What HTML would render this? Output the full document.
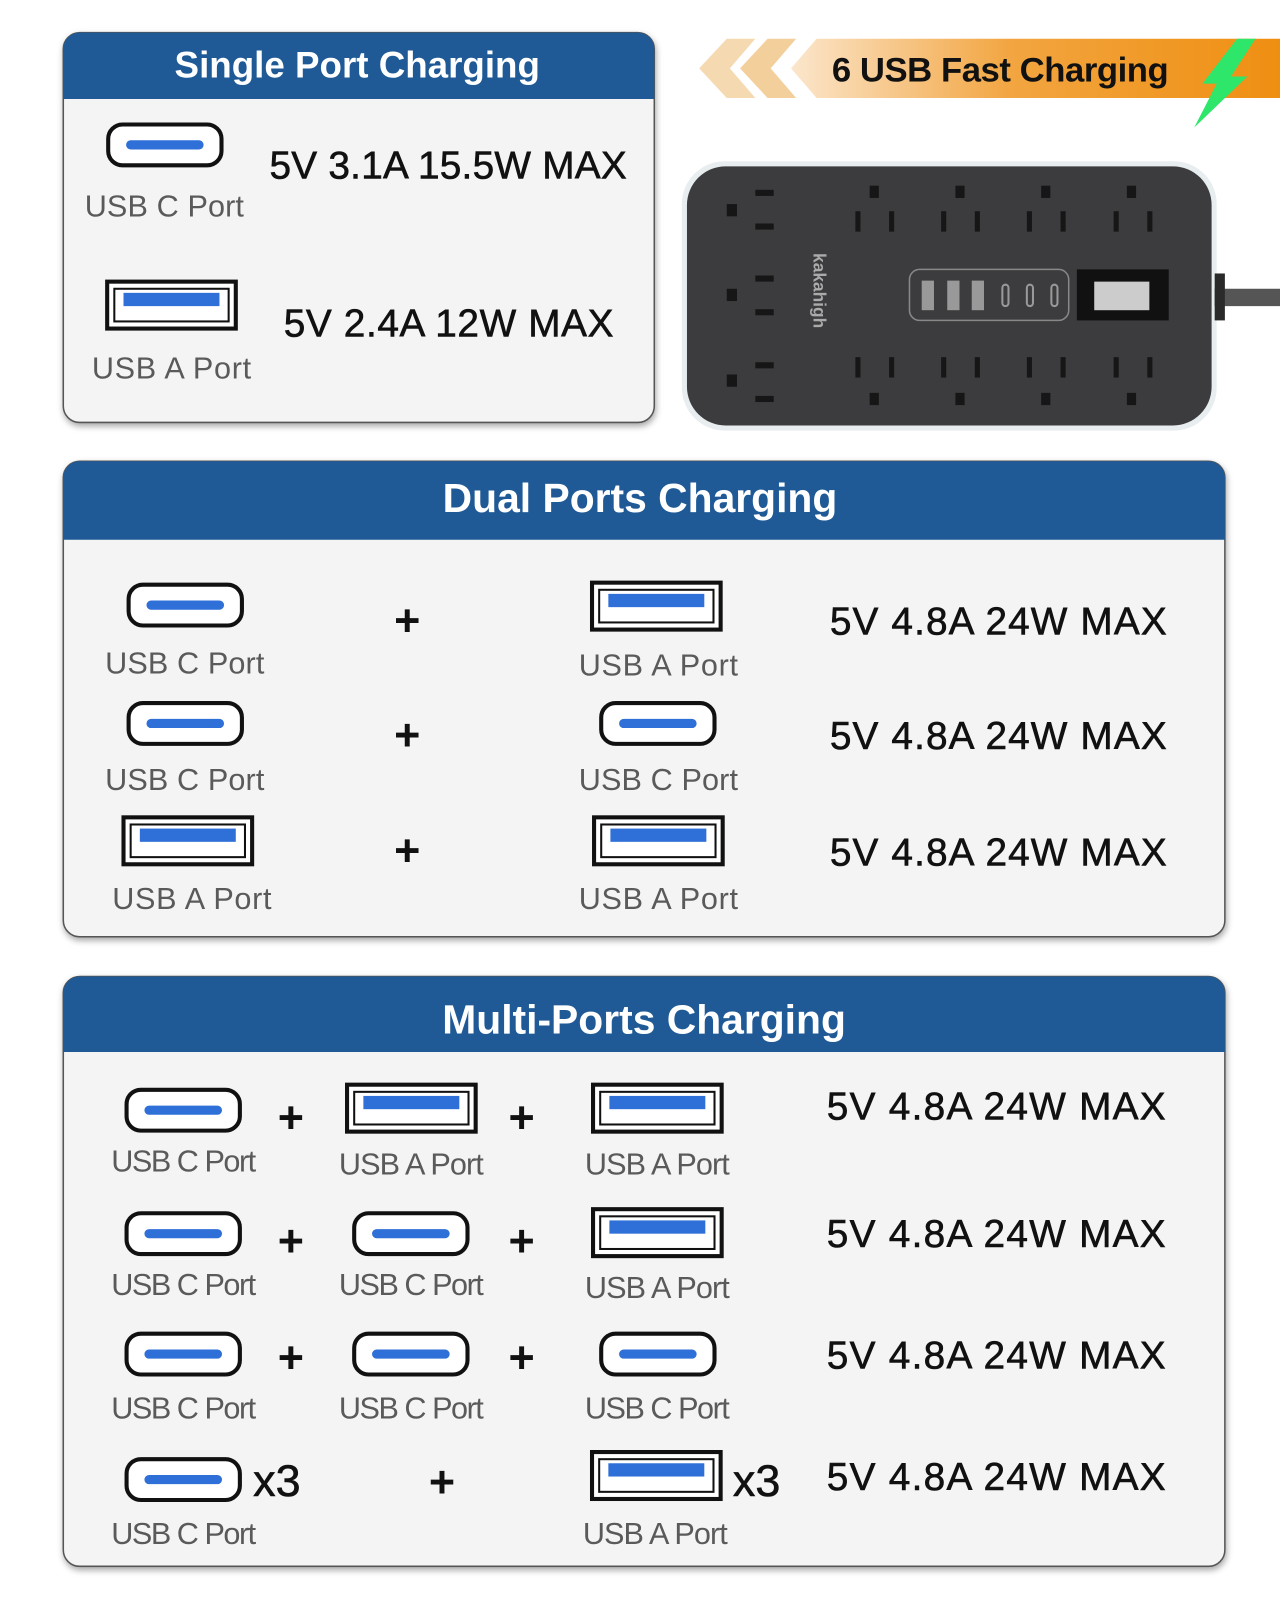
<!DOCTYPE html>
<html><head><meta charset="utf-8"><style>
html,body{margin:0;padding:0;background:#fff;}
svg{display:block;}
text{font-family:"Liberation Sans",sans-serif;}
.lbl{font-size:30px;fill:#5a5a5a;text-anchor:middle;}
.mx{font-size:38px;fill:#111;stroke:#111;stroke-width:0.6;}
.ttl{font-size:38px;fill:#fff;font-weight:bold;text-anchor:middle;}
.pl{font-size:44px;font-weight:bold;fill:#111;text-anchor:middle;}
</style></head><body>
<svg width="1280" height="1600" viewBox="0 0 1254 1568" preserveAspectRatio="none" xmlns="http://www.w3.org/2000/svg">
<defs>
<g id="uc"><rect x="2" y="2" width="111" height="40" rx="14" fill="#fff" stroke="#111" stroke-width="4"/><line x1="24" y1="22" x2="91" y2="22" stroke="#2f6fd8" stroke-width="9" stroke-linecap="round"/></g>
<g id="ua"><rect x="2" y="2" width="126" height="46" fill="#fff" stroke="#111" stroke-width="4"/><rect x="9" y="9" width="112" height="32" fill="none" stroke="#111" stroke-width="2"/><rect x="18" y="13" width="94" height="13" fill="#2f6fd8"/></g>
<linearGradient id="og" x1="0" x2="1"><stop offset="0" stop-color="#fbe6cc"/><stop offset="0.45" stop-color="#f2a540"/><stop offset="1" stop-color="#ef8f12"/></linearGradient>
<filter id="sh" x="-5%" y="-5%" width="110%" height="115%"><feDropShadow dx="1" dy="3" stdDeviation="3" flood-color="#000" flood-opacity="0.35"/></filter>
</defs>
<g filter="url(#sh)"><rect x="62" y="32" width="579" height="382" rx="16" fill="#f4f4f4" stroke="#555" stroke-width="1.5"/></g>
<path d="M62 97 V48 a16 16 0 0 1 16 -16 H625 a16 16 0 0 1 16 16 V97 Z" fill="#1f5a96"/>
<text class="ttl" x="350" y="76" style="font-size:36px">Single Port Charging</text>
<use href="#uc" x="104" y="120"/>
<text class="lbl" x="161" y="212" textLength="156">USB C Port</text>
<text class="mx" x="264" y="175" textLength="350">5V 3.1A 15.5W MAX</text>
<use href="#ua" x="103" y="274"/>
<text class="lbl" x="168" y="371" textLength="156">USB A Port</text>
<text class="mx" x="278" y="330" textLength="323">5V 2.4A 12W MAX</text>
<polygon points="800,38 1254,38 1254,96 800,96 775,67" fill="url(#og)"/>
<polygon points="712,38 740,38 715,67 740,96 712,96 685,67" fill="#f5d9b0"/>
<polygon points="752,38 780,38 755,67 780,96 752,96 725,67" fill="#f3cf9c"/>
<text x="815" y="80" style="font-size:34px;font-weight:bold;fill:#111" textLength="330">6 USB Fast Charging</text>
<polygon points="1212,38 1230,38 1206,75 1222,75 1170,125 1192,82 1178,82" fill="#2ee66a"/>
<rect x="668" y="158" width="524" height="264" rx="42" fill="#e8eef0"/>
<rect x="673" y="163" width="514" height="254" rx="38" fill="#3c3c3e"/>
<path d="M1190 283 H1254 V300 H1190 Z" fill="#555"/>
<rect x="1190" y="268" width="10" height="46" fill="#2a2a2a"/>
<g fill="#161616">
<rect x="740" y="186" width="18" height="6"/><rect x="740" y="219" width="18" height="6"/><rect x="712" y="200" width="10" height="12"/>
<rect x="740" y="270" width="18" height="6"/><rect x="740" y="303" width="18" height="6"/><rect x="712" y="283" width="10" height="12"/>
<rect x="740" y="355" width="18" height="6"/><rect x="740" y="388" width="18" height="6"/><rect x="712" y="367" width="10" height="12"/>
<rect x="838" y="207" width="5" height="20"/><rect x="871" y="207" width="5" height="20"/><rect x="852" y="182" width="9" height="12"/>
<rect x="922" y="207" width="5" height="20"/><rect x="955" y="207" width="5" height="20"/><rect x="936" y="182" width="9" height="12"/>
<rect x="1006" y="207" width="5" height="20"/><rect x="1039" y="207" width="5" height="20"/><rect x="1020" y="182" width="9" height="12"/>
<rect x="1091" y="207" width="5" height="20"/><rect x="1124" y="207" width="5" height="20"/><rect x="1104" y="182" width="9" height="12"/>
<rect x="838" y="350" width="5" height="20"/><rect x="871" y="350" width="5" height="20"/><rect x="852" y="385" width="9" height="12"/>
<rect x="922" y="350" width="5" height="20"/><rect x="955" y="350" width="5" height="20"/><rect x="936" y="385" width="9" height="12"/>
<rect x="1006" y="350" width="5" height="20"/><rect x="1039" y="350" width="5" height="20"/><rect x="1020" y="385" width="9" height="12"/>
<rect x="1091" y="350" width="5" height="20"/><rect x="1124" y="350" width="5" height="20"/><rect x="1104" y="385" width="9" height="12"/>
</g>
<text x="0" y="0" transform="translate(797,248) rotate(90)" style="font-size:17px;font-weight:bold;fill:#aaa">kakahigh</text>
<rect x="891" y="264" width="156" height="50" rx="10" fill="none" stroke="#888" stroke-width="1.5"/>
<g fill="#999"><rect x="903" y="275" width="12" height="29"/><rect x="928" y="275" width="12" height="29"/><rect x="952" y="275" width="12" height="29"/></g>
<g fill="none" stroke="#999" stroke-width="2"><rect x="982" y="279" width="6" height="21" rx="3"/><rect x="1006" y="279" width="6" height="21" rx="3"/><rect x="1030" y="279" width="6" height="21" rx="3"/></g>
<rect x="1055" y="264" width="90" height="50" fill="#111"/>
<rect x="1072" y="276" width="54" height="28" fill="#ccc"/>
<g filter="url(#sh)"><rect x="62" y="452" width="1138" height="466" rx="16" fill="#f4f4f4" stroke="#555" stroke-width="1.5"/></g>
<path d="M62 529 V468 a16 16 0 0 1 16 -16 H1184 a16 16 0 0 1 16 16 V529 Z" fill="#1f5a96"/>
<text class="ttl" x="627" y="502" style="font-size:40px">Dual Ports Charging</text>
<use href="#uc" x="124" y="571"/><text class="lbl" x="181" y="660" textLength="156">USB C Port</text>
<text class="pl" x="399" y="623">+</text>
<use href="#ua" x="578" y="569"/><text class="lbl" x="645" y="662" textLength="156">USB A Port</text>
<text class="mx" x="813" y="622" textLength="330">5V 4.8A 24W MAX</text>
<use href="#uc" x="124" y="687"/><text class="lbl" x="181" y="774" textLength="156">USB C Port</text>
<text class="pl" x="399" y="735">+</text>
<use href="#uc" x="587" y="687"/><text class="lbl" x="645" y="774" textLength="156">USB C Port</text>
<text class="mx" x="813" y="734" textLength="330">5V 4.8A 24W MAX</text>
<use href="#ua" x="119" y="799"/><text class="lbl" x="188" y="891" textLength="156">USB A Port</text>
<text class="pl" x="399" y="848">+</text>
<use href="#ua" x="580" y="799"/><text class="lbl" x="645" y="891" textLength="156">USB A Port</text>
<text class="mx" x="813" y="848" textLength="330">5V 4.8A 24W MAX</text>
<g filter="url(#sh)"><rect x="62" y="957" width="1138" height="578" rx="16" fill="#f4f4f4" stroke="#555" stroke-width="1.5"/></g>
<path d="M62 1031 V973 a16 16 0 0 1 16 -16 H1184 a16 16 0 0 1 16 16 V1031 Z" fill="#1f5a96"/>
<text class="ttl" x="631" y="1013" style="font-size:40px">Multi-Ports Charging</text>
<use href="#uc" x="122" y="1066"/><text class="lbl" x="180" y="1148" textLength="142">USB C Port</text>
<text class="pl" x="285" y="1110">+</text>
<use href="#ua" x="338" y="1061"/><text class="lbl" x="403" y="1151" textLength="142">USB A Port</text>
<text class="pl" x="511" y="1110">+</text>
<use href="#ua" x="579" y="1061"/><text class="lbl" x="644" y="1151" textLength="142">USB A Port</text>
<text class="mx" x="810" y="1097" textLength="332">5V 4.8A 24W MAX</text>
<use href="#uc" x="122" y="1187"/><text class="lbl" x="180" y="1269" textLength="142">USB C Port</text>
<text class="pl" x="285" y="1231">+</text>
<use href="#uc" x="345" y="1187"/><text class="lbl" x="403" y="1269" textLength="142">USB C Port</text>
<text class="pl" x="511" y="1231">+</text>
<use href="#ua" x="579" y="1183"/><text class="lbl" x="644" y="1272" textLength="142">USB A Port</text>
<text class="mx" x="810" y="1222" textLength="332">5V 4.8A 24W MAX</text>
<use href="#uc" x="122" y="1305"/><text class="lbl" x="180" y="1390" textLength="142">USB C Port</text>
<text class="pl" x="285" y="1345">+</text>
<use href="#uc" x="345" y="1305"/><text class="lbl" x="403" y="1390" textLength="142">USB C Port</text>
<text class="pl" x="511" y="1345">+</text>
<use href="#uc" x="587" y="1305"/><text class="lbl" x="644" y="1390" textLength="142">USB C Port</text>
<text class="mx" x="810" y="1341" textLength="332">5V 4.8A 24W MAX</text>
<use href="#uc" x="122" y="1428"/><text x="248" y="1466" style="font-size:44px;fill:#111;stroke:#111;stroke-width:0.6">x3</text>
<text class="lbl" x="180" y="1513" textLength="142">USB C Port</text>
<text class="pl" x="433" y="1467">+</text>
<use href="#ua" x="578" y="1421"/><text x="718" y="1466" style="font-size:44px;fill:#111;stroke:#111;stroke-width:0.6">x3</text>
<text class="lbl" x="642" y="1513" textLength="142">USB A Port</text>
<text class="mx" x="810" y="1460" textLength="332">5V 4.8A 24W MAX</text>
</svg>
</body></html>
